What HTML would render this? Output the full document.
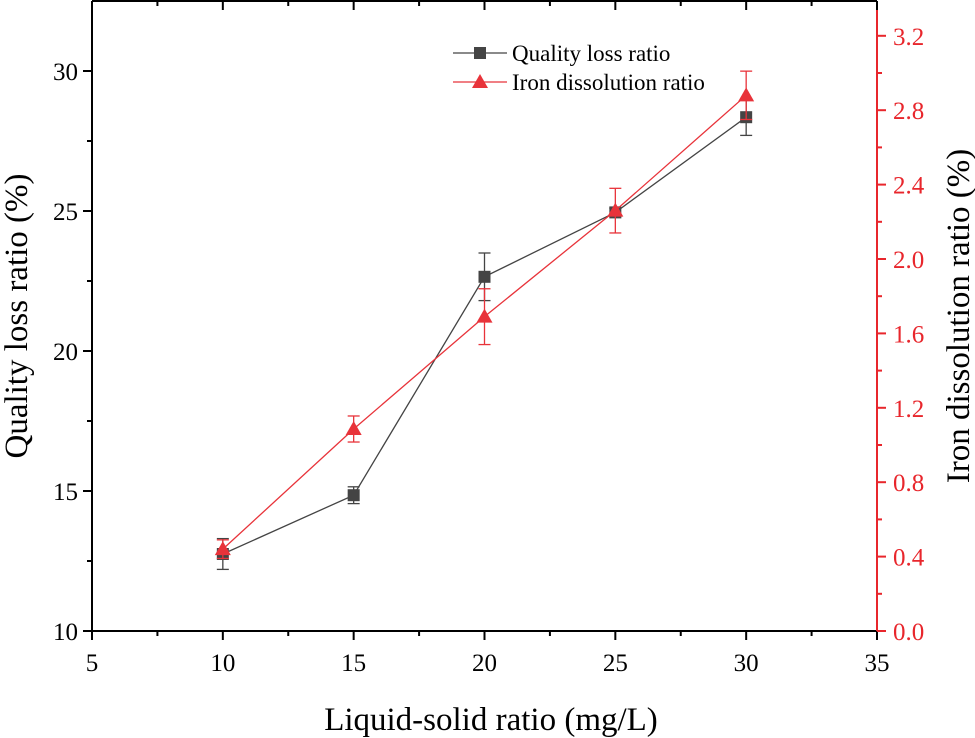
<!DOCTYPE html>
<html><head><meta charset="utf-8"><style>
html,body{margin:0;padding:0;background:#fff;}
svg{display:block;font-family:"Liberation Serif",serif;}
</style></head><body>
<svg id="chart" width="975" height="738"></svg>
<script>
const categories=[10,15,20,25,30];
const qualityLoss=[12.75,14.85,22.65,24.95,28.35];
const qualityErr=[0.55,0.3,0.85,0.15,0.65];
const ironRatio=[0.44,1.086,1.69,2.26,2.88];
const ironErr=[0.05,0.07,0.15,0.12,0.13];
const xTicks=[5,10,15,20,25,30,35];
const yLeftTicks=[10,15,20,25,30];
const yRightTicks=[0,0.4,0.8,1.2,1.6,2.0,2.4,2.8,3.2];

const NS="http://www.w3.org/2000/svg";
const svg=document.getElementById('chart');
const L=92,R=877,T=1,B=631;
const xS=v=>L+(v-5)/30*(R-L);
const yL=v=>B-(v-10)*28;
const yR=v=>B-v/0.4*74.4;
function mk(tag,attrs,parent){const e=document.createElementNS(NS,tag);for(const k in attrs)e.setAttribute(k,attrs[k]);(parent||svg).appendChild(e);return e;}

let g=mk('g',{});


mk('line',{x1:L,y1:T,x2:R,y2:T,stroke:'#000','stroke-width':2},g);
mk('line',{x1:L,y1:B,x2:R,y2:B,stroke:'#000','stroke-width':2},g);
mk('line',{x1:L,y1:T,x2:L,y2:B,stroke:'#000','stroke-width':2},g);
mk('line',{x1:R,y1:T,x2:R,y2:B,stroke:'#e8262c','stroke-width':2},g);

let xa=mk('g',{});


xTicks.forEach((v,i)=>{
  const x=xS(v);
  mk('line',{x1:x,y1:B,x2:x,y2:B+9,stroke:'#000','stroke-width':2},xa);
  mk('line',{x1:x,y1:T,x2:x,y2:T+9,stroke:'#000','stroke-width':2},xa);
  if(i<xTicks.length-1){const xm=xS(v+2.5);
    mk('line',{x1:xm,y1:B,x2:xm,y2:B+5,stroke:'#000','stroke-width':2},xa);
    mk('line',{x1:xm,y1:T,x2:xm,y2:T+5,stroke:'#000','stroke-width':2},xa);}
  const t=mk('text',{x:x,y:B+40,'font-size':25,'text-anchor':'middle',fill:'#000'},xa);
  t.textContent=v;
  
  
});
let xt=mk('text',{x:491,y:730,'font-size':33,'text-anchor':'middle',fill:'#000'});
xt.textContent='Liquid-solid ratio (mg/L)';



let ya=mk('g',{});


yLeftTicks.forEach(v=>{
  const y=yL(v);
  mk('line',{x1:L-9,y1:y,x2:L,y2:y,stroke:'#000','stroke-width':2},ya);
  const ym=yL(v+2.5);
  if(ym>T) mk('line',{x1:L-5,y1:ym,x2:L,y2:ym,stroke:'#000','stroke-width':2},ya);
  const t=mk('text',{x:L-14,y:y+9,'font-size':25,'text-anchor':'end',fill:'#000'},ya);
  t.textContent=v;
  
  
});
let ylt=mk('text',{x:0,y:0,'font-size':33,'text-anchor':'middle',fill:'#000',transform:`translate(27,${(T+B)/2}) rotate(-90)`});
ylt.textContent='Quality loss ratio (%)';



let yr=mk('g',{});


yRightTicks.forEach(v=>{
  const y=yR(v);
  mk('line',{x1:R,y1:y,x2:R+9,y2:y,stroke:'#e8262c','stroke-width':2},yr);
  const ym=yR(v+0.2);
  if(ym>T) mk('line',{x1:R,y1:ym,x2:R+5,y2:ym,stroke:'#e8262c','stroke-width':2},yr);
  const t=mk('text',{x:R+16,y:y+9,'font-size':25,'text-anchor':'start',fill:'#e8262c'},yr);
  t.textContent=v.toFixed(1);
  
  
});
let yrt=mk('text',{x:0,y:0,'font-size':33,'text-anchor':'middle',fill:'#000',transform:`translate(969,${(T+B)/2}) rotate(-90)`});
yrt.textContent='Iron dissolution ratio (%)';



function series(vals,errs,yf,color,marker,name){
  const s=mk('g',{});
  
  
  mk('polyline',{points:categories.map((c,i)=>xS(c)+','+yf(vals[i])).join(' '),fill:'none',stroke:color,'stroke-width':1.3},s);
  categories.forEach((c,i)=>{
    const x=xS(c),y1=yf(vals[i]-errs[i]),y2=yf(vals[i]+errs[i]);
    mk('line',{x1:x,y1:y1,x2:x,y2:y2,stroke:color,'stroke-width':1.3},s);
    mk('line',{x1:x-6,y1:y1,x2:x+6,y2:y1,stroke:color,'stroke-width':1.3},s);
    mk('line',{x1:x-6,y1:y2,x2:x+6,y2:y2,stroke:color,'stroke-width':1.3},s);
  });
  categories.forEach((c,i)=>{
    const x=xS(c),y=yf(vals[i]);
    let m;
    if(marker==='square') m=mk('rect',{x:x-6,y:y-6,width:12,height:12,fill:color},s);
    else m=mk('polygon',{points:`${x},${y-8} ${x+8},${y+6} ${x-8},${y+6}`,fill:color},s);
    
    
  });
}
series(qualityLoss,qualityErr,yL,'#444','square','quality-loss-series');
series(ironRatio,ironErr,yR,'#e8333a','triangle','iron-dissolution-series');

const lg=mk('g',{});


const e1=mk('g',{},lg);


mk('line',{x1:453,y1:53,x2:507,y2:53,stroke:'#444','stroke-width':1.3},e1);
mk('rect',{x:474,y:47,width:12,height:12,fill:'#444'},e1);
let lt1=mk('text',{x:512,y:61,'font-size':23,fill:'#000'},e1);lt1.textContent='Quality loss ratio';
const e2=mk('g',{},lg);


mk('line',{x1:453,y1:82,x2:507,y2:82,stroke:'#e8333a','stroke-width':1.3},e2);
mk('polygon',{points:'480,74 488,88 472,88',fill:'#e8333a'},e2);
let lt2=mk('text',{x:512,y:90,'font-size':23,fill:'#000'},e2);lt2.textContent='Iron dissolution ratio';
</script>
</body></html>
